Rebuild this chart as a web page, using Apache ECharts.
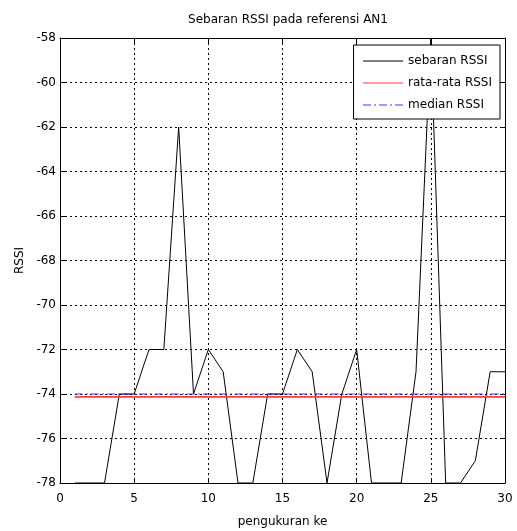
<!DOCTYPE html>
<html>
<head>
<meta charset="utf-8">
<script src="https://cdn.jsdelivr.net/npm/echarts@6/dist/echarts.min.js"></script>
<style>html,body{margin:0;padding:0;background:#fff;}#c{width:517px;height:531px;}</style>
</head>
<body>
<div id="c"></div>
<script>
var measurements = [1,2,3,4,5,6,7,8,9,10,11,12,13,14,15,16,17,18,19,20,21,22,23,24,25,26,27,28,29,30];
var rssiValues = [-78,-78,-78,-74,-74,-72,-72,-62,-74,-72,-73,-78,-78,-74,-74,-72,-73,-78,-74,-72,-78,-78,-78,-73,-58,-78,-78,-77,-73,-73];
var meanValue = -74.13;
var medianValue = -74;
var xTicks = [0,5,10,15,20,25,30];
var yTicks = [-78,-76,-74,-72,-70,-68,-66,-64,-62,-60,-58];

var font = 'DejaVu Sans';
var chart = echarts.init(document.getElementById('c'), null, {renderer:'canvas'});
var rssiData = measurements.map(function(x,i){return [x, rssiValues[i]];});
var first = measurements[0], last = measurements[measurements.length-1];

var axisCommon = {
  type:'value',
  axisLine:{show:true, onZero:false, lineStyle:{color:'#000', width:1}},
  axisTick:{show:true, inside:true, length:5, lineStyle:{color:'#000'}},
  axisLabel:{color:'#000', fontFamily:font, fontSize:12}
};

chart.setOption({
  animation:false,
  backgroundColor:'#fff',
  title:{text:'Sebaran RSSI pada referensi AN1', left:283, textAlign:'center', top:9,
    textStyle:{fontFamily:font, fontSize:12, fontWeight:'normal', color:'#000'}},
  grid:{left:60, right:12, top:38, bottom:48, containLabel:false, outerBoundsMode:'none'},
  legend:{
    data:['sebaran RSSI','rata-rata RSSI','median RSSI'],
    orient:'vertical', right:17, top:45,
    backgroundColor:'#fff', borderColor:'#000', borderWidth:1, borderRadius:0,
    padding:[10,8,8,9], itemGap:10, itemWidth:40, itemHeight:12,
    itemStyle:{opacity:0},
    lineStyle:{width:1},
    textStyle:{fontFamily:font, fontSize:12, color:'#000'}
  },
  xAxis:[
    Object.assign({}, axisCommon, {min:0, max:30, interval:5, position:'bottom',
      name:'pengukuran ke', nameLocation:'middle', nameGap:33,
      nameTextStyle:{fontFamily:font, fontSize:12, color:'#000'},
      axisLabel:{color:'#000', fontFamily:font, fontSize:12, margin:10,
        formatter:function(v){return xTicks.indexOf(v)>=0 ? String(v) : '';}},
      splitLine:{show:true, lineStyle:{color:'#000', type:[2,3], width:1}}}),
    Object.assign({}, axisCommon, {min:0, max:30, interval:5, position:'top',
      axisLabel:{show:false}, splitLine:{show:false}})
  ],
  yAxis:[
    Object.assign({}, axisCommon, {min:-78, max:-58, interval:2, position:'left',
      name:'RSSI', nameLocation:'middle', nameGap:28, nameRotate:90,
      nameTextStyle:{fontFamily:font, fontSize:12, color:'#000'},
      axisLabel:{color:'#000', fontFamily:font, fontSize:12, margin:4,
        formatter:function(v){return yTicks.indexOf(v)>=0 ? String(v) : '';}},
      splitLine:{show:true, lineStyle:{color:'#000', type:[2,3], width:1}}}),
    Object.assign({}, axisCommon, {min:-78, max:-58, interval:2, position:'right',
      axisLabel:{show:false}, splitLine:{show:false}})
  ],
  series:[
    {name:'sebaran RSSI', type:'line', data:rssiData, symbol:'none', clip:true,
      lineStyle:{color:'#000', width:1}, itemStyle:{color:'#000'}},
    {name:'rata-rata RSSI', type:'line', data:[[first, meanValue],[last, meanValue]], symbol:'none',
      lineStyle:{color:'#ff3838', width:1.6}, itemStyle:{color:'#ff3838'}},
    {name:'median RSSI', type:'line', data:[[first, medianValue],[last, medianValue]], symbol:'none',
      lineStyle:{color:'#3838ff', width:1.2, type:[8,3,2,3]}, itemStyle:{color:'#3838ff'}}
  ]
});
</script>
</body>
</html>
